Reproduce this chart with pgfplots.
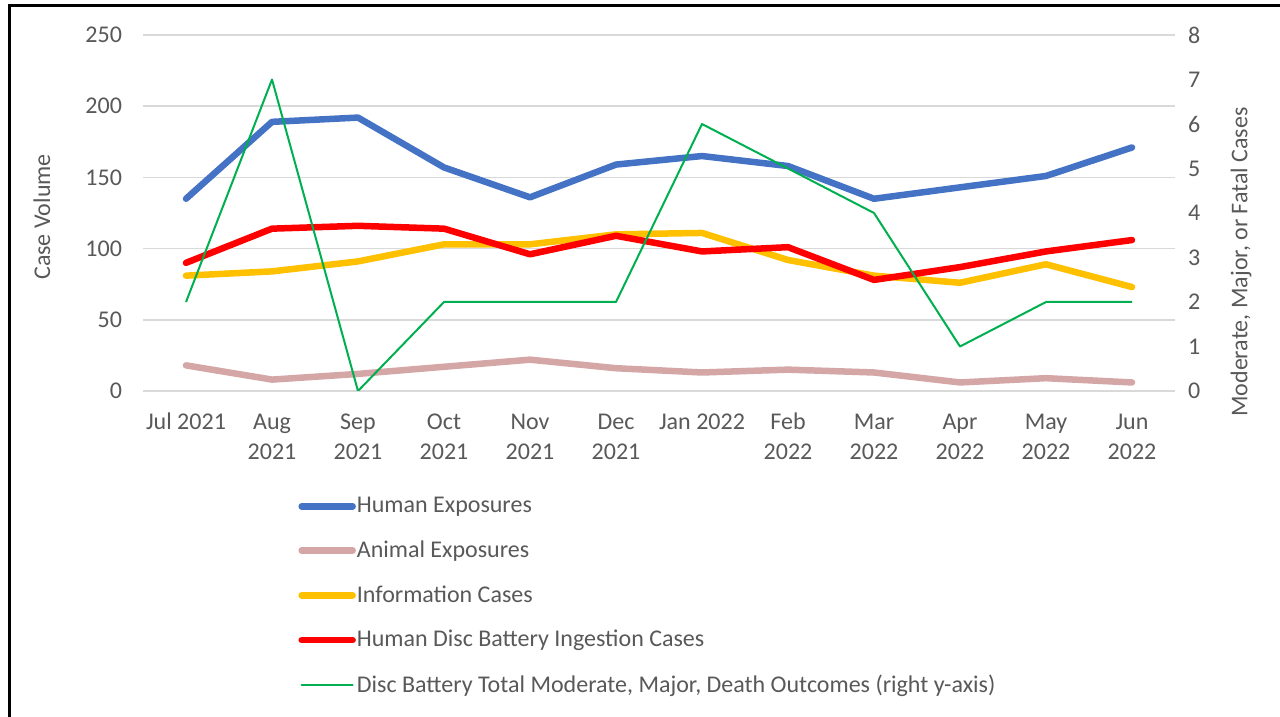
\documentclass[border=0pt]{standalone}
\usepackage{pgfplots}
\pgfplotsset{compat=1.18}
\usepackage{fontspec}
\setmainfont{Carlito}
\definecolor{cblue}{HTML}{4472C4}
\definecolor{cpink}{HTML}{D5A6A6}
\definecolor{cyellow}{HTML}{FFC000}
\definecolor{cred}{HTML}{FF0000}
\definecolor{cgreen}{HTML}{00B050}
\definecolor{gridgray}{HTML}{D9D9D9}
\definecolor{tickgray}{HTML}{595959}
\begin{document}
\begin{tikzpicture}
\useasboundingbox (0,0) rectangle (640pt,358.5pt);
\fill[white] (0,0) rectangle (640pt,358.5pt);
\draw[line width=1.5pt] (4.5pt,0) -- (4.5pt,355.5pt) -- (640pt,355.5pt);
\begin{axis}[
  scale only axis, width=516pt, height=178pt,
  at={(71.5pt,163pt)}, anchor=south west,
  xmin=-0.5, xmax=11.5, ymin=0, ymax=250,
  ytick={0,50,...,250},
  xtick={0,...,11},
  xticklabels={\strut Jul 2021,{\strut Aug\\2021},{\strut Sep\\2021},{\strut Oct\\2021},{\strut Nov\\2021},{\strut Dec\\2021},\strut Jan 2022,{\strut Feb\\2022},{\strut Mar\\2022},{\strut Apr\\2022},{\strut May\\2022},{\strut Jun\\2022}},
  axis line style={draw=none}, major tick length=0pt,
  ymajorgrids, grid style={draw=gridgray, line width=0.75pt},
  tick label style={font=\fontsize{12}{15}\selectfont, text=tickgray},
  /pgf/number format/assume math mode=true,
  yticklabel style={xshift=-7pt},
  xticklabel style={align=center, anchor=north, yshift=-5pt},
  every axis y label/.style={at={(axis description cs:0,0.5)}, xshift=-50.5pt, yshift=-2pt, rotate=90, anchor=center, font=\fontsize{12}{15}\selectfont, text=tickgray},
  ylabel={Case Volume},
  legend cell align=left,
  legend style={at={(axis description cs:0.1502,-0.294)}, anchor=north west, draw=none, fill=none, inner sep=0pt, row sep=11.6pt, font=\fontsize{12}{15}\selectfont, text=tickgray, nodes={inner sep=0.5pt}},
  legend image code/.code={\draw[#1] (0pt,0pt) -- (25.5pt,0pt);},
  every axis plot/.append style={line join=round, line cap=round},
]
\addplot[cblue, line width=3.25pt] coordinates {(0,135)(1,189)(2,192)(3,157)(4,136)(5,159)(6,165)(7,158)(8,135)(9,143)(10,151)(11,171)};
\addlegendentry{Human Exposures}
\addplot[cpink, line width=3.25pt] coordinates {(0,18)(1,8)(2,12)(3,17)(4,22)(5,16)(6,13)(7,15)(8,13)(9,6)(10,9)(11,6)};
\addlegendentry{Animal Exposures}
\addplot[cyellow, line width=3.25pt] coordinates {(0,81)(1,84)(2,91)(3,103)(4,103)(5,110)(6,111)(7,92)(8,81)(9,76)(10,89)(11,73)};
\addlegendentry{Information Cases}
\addplot[cred, line width=3.25pt] coordinates {(0,90)(1,114)(2,116)(3,114)(4,96)(5,109)(6,98)(7,101)(8,78)(9,87)(10,98)(11,106)};
\addlegendentry{Human Disc Battery Ingestion Cases}
\addlegendimage{cgreen, line width=1pt}
\addlegendentry{Disc Battery Total Moderate, Major, Death Outcomes (right y-axis)}
\end{axis}
\begin{axis}[
  scale only axis, width=516pt, height=178pt,
  at={(71.5pt,163pt)}, anchor=south west,
  xmin=-0.5, xmax=11.5, ymin=0, ymax=8,
  ytick={0,...,8},
  axis x line=none, axis y line*=right,
  axis line style={draw=none}, major tick length=0pt,
  tick label style={font=\fontsize{12}{15}\selectfont, text=tickgray},
  /pgf/number format/assume math mode=true,
  yticklabel style={xshift=3pt},
  every axis y label/.style={at={(axis description cs:1,0.5)}, xshift=33pt, yshift=-24.5pt, rotate=90, anchor=center, font=\fontsize{12}{15}\selectfont, text=tickgray},
  ylabel={Moderate, Major, or Fatal Cases},
]
\addplot[cgreen, line width=1pt, line join=round] coordinates {(0,2)(1,7)(2,0)(3,2)(4,2)(5,2)(6,6)(7,5)(8,4)(9,1)(10,2)(11,2)};
\end{axis}
\end{tikzpicture}
\end{document}
